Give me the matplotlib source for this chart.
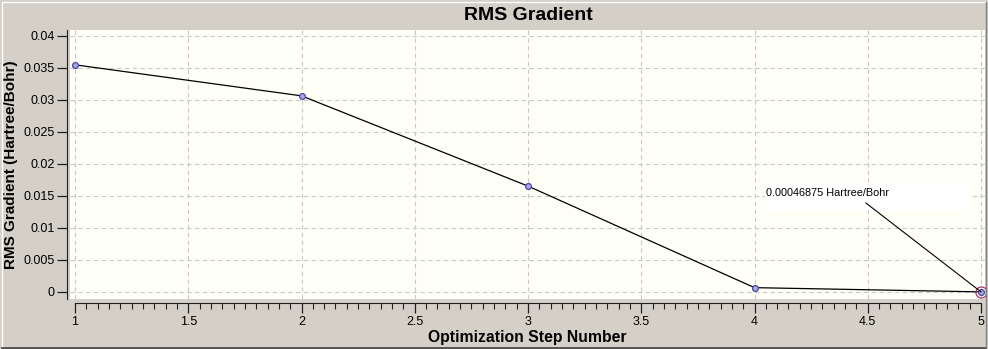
import matplotlib
matplotlib.use("Agg")
import matplotlib.pyplot as plt
from matplotlib.patches import Rectangle
from matplotlib.lines import Line2D
from matplotlib.ticker import MultipleLocator

plt.rcParams["font.family"] = ["Liberation Sans", "DejaVu Sans"]

# data
steps = [1, 2, 3, 4, 5]
rms_grad = [0.0355, 0.03065, 0.01655, 0.00068, 0.00002]
note_text = "0.00046875 Hartree/Bohr"
y_ticks = [0, 0.005, 0.01, 0.015, 0.02, 0.025, 0.03, 0.035, 0.04]
y_ticklabels = ["0", "0.005", "0.01", "0.015", "0.02", "0.025", "0.03", "0.035", "0.04"]
x_ticks = [1, 1.5, 2, 2.5, 3, 3.5, 4, 4.5, 5]
x_ticklabels = ["1", "1.5", "2", "2.5", "3", "3.5", "4", "4.5", "5"]

W, H = 988, 349
bg = "#d4d0c8"
fig = plt.figure(figsize=(W / 100, H / 100), dpi=100, facecolor=bg)

# windows style frame around the panel
fig.add_artist(Line2D([2 / W, 2 / W], [2 / H, 1 - 2 / H], color="white", lw=1))
fig.add_artist(Line2D([2 / W, 1 - 2 / W], [1 - 2 / H, 1 - 2 / H], color="white", lw=1))
fig.add_artist(Line2D([2 / W, 1 - 2 / W], [1.5 / H, 1.5 / H], color="#404040", lw=1.2))
fig.add_artist(Line2D([1 - 2 / W, 1 - 2 / W], [2 / H, 1 - 2 / H], color="#808080", lw=1))

ax = fig.add_axes([70 / W, (H - 299) / H, (985 - 70) / W, (299 - 30) / H])
ax.set_facecolor("#fffff8")

ax.plot(steps, rms_grad, color="black", lw=0.9, zorder=3)
ax.plot(steps, rms_grad, ls="none", marker="o", ms=4.2, mfc="#a8a8e8",
        mec="#4848a0", mew=0.9, zorder=4)
# selected point ring
ax.plot(steps[-1], rms_grad[-1], ls="none", marker="o", ms=8, mfc="none",
        mec="#b03070", mew=0.9, zorder=5)

ax.set_xlim(1 - 5 / 226.5, 5 + 4 / 226.5)
ax.set_ylim(-7 / 6400, 0.04 + 6 / 6400)

ax.set_xticks(x_ticks)
ax.set_xticklabels(x_ticklabels)
ax.set_yticks(y_ticks)
ax.set_yticklabels(y_ticklabels)
ax.xaxis.set_minor_locator(MultipleLocator(0.05))

ax.grid(True, which="major", color="#c8c8c8", ls=(0, (4, 3)), lw=0.8)
ax.set_axisbelow(True)

for s in ("top", "right"):
    ax.spines[s].set_visible(False)
ax.spines["left"].set_position(("outward", 2))
ax.spines["bottom"].set_position(("outward", 3))
ax.spines["left"].set_color("#202020")
ax.spines["bottom"].set_color("#202020")
ax.spines["bottom"].set_bounds(1, 5)

ax.tick_params(axis="both", which="major", direction="out", length=7,
               width=0.9, color="#202020", labelsize=9, labelcolor="black", pad=2)
ax.tick_params(axis="x", which="minor", direction="out", length=4, width=0.8,
               color="#202020")

ax.set_xlabel("Optimization Step Number", fontsize=11.3, fontweight="bold", labelpad=2)
ax.set_ylabel("RMS Gradient (Hartree/Bohr)", fontsize=11, fontweight="bold", labelpad=4)
fig.text(528 / W, 1 - 15 / H, "RMS Gradient", ha="center", va="center",
         fontsize=14, fontweight="bold")

# annotation box with leader line
ax.add_patch(Rectangle((4.046, 0.01281), 0.905, 0.00391, fc="white", ec="none",
                       zorder=6))
ax.text(4.051, 0.01547, note_text, fontsize=7.8, va="center", ha="left", zorder=7)
ax.add_line(Line2D([4.492, steps[-1]], [0.0139, rms_grad[-1]], color="black",
                   lw=0.8, zorder=7))

fig.savefig("out.png", dpi=100, facecolor=bg)
